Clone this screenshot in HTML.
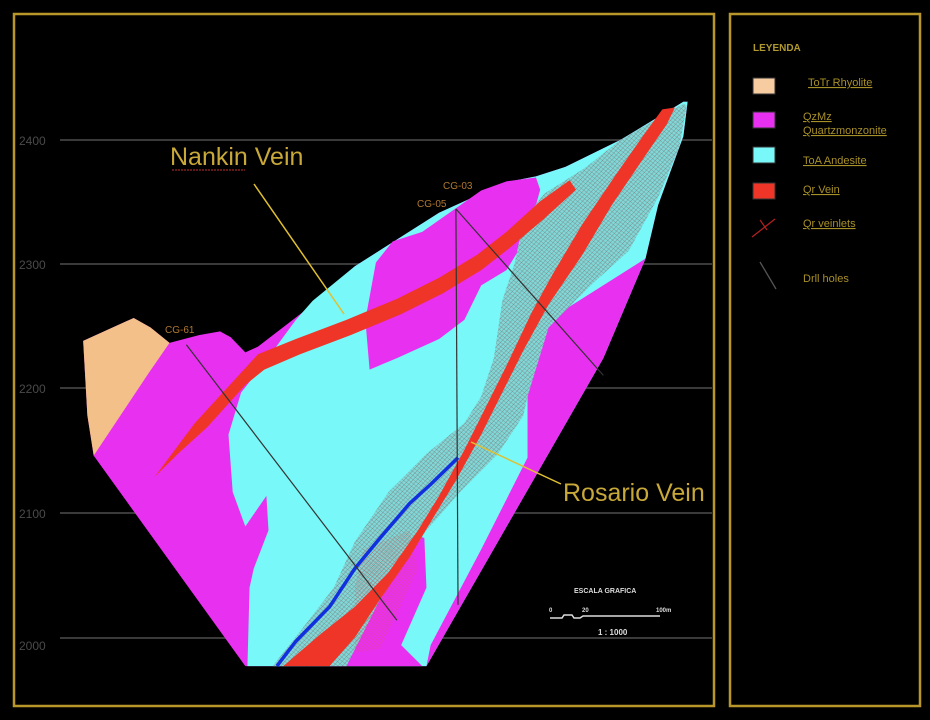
<!DOCTYPE html>
<html><head><meta charset="utf-8"><style>
html,body{margin:0;padding:0;background:#000;}
svg{display:block;}
.lg{font-family:"Liberation Sans Narrow","Liberation Sans",sans-serif;font-size:11px;fill:#a89028;text-decoration:underline;text-decoration-color:#c02020;}
</style></head><body>
<svg width="930" height="720" viewBox="0 0 930 720" xmlns="http://www.w3.org/2000/svg">
<defs>
<pattern id="hx" width="8" height="8" patternUnits="userSpaceOnUse" patternTransform="rotate(40)">
<rect width="8" height="8" fill="#80d8d8"/>
<path d="M0 0H8M0 0V8" stroke="#7a5a5a" stroke-width="1.3"/>
</pattern>
<pattern id="vl" width="7" height="7" patternUnits="userSpaceOnUse" patternTransform="rotate(40)">
<path d="M0 0H7M0 0V7" stroke="#e05050" stroke-width="0.9"/>
</pattern>
</defs>
<rect width="930" height="720" fill="#000"/>
<rect x="14" y="14" width="700" height="692" fill="none" stroke="#b8962a" stroke-width="2.5"/>
<rect x="730" y="14" width="190" height="692" fill="none" stroke="#b8962a" stroke-width="2.5"/>
<g stroke="#3a3a3a" stroke-width="2">
<line x1="60" y1="140" x2="712" y2="140"/><line x1="60" y1="264" x2="712" y2="264"/>
<line x1="60" y1="388" x2="712" y2="388"/><line x1="60" y1="513" x2="712" y2="513"/>
<line x1="60" y1="638" x2="712" y2="638"/>
</g>
<g font-family="Liberation Sans,sans-serif" font-size="12" fill="#4a4a4a">
<text x="19" y="145">2400</text><text x="19" y="269">2300</text><text x="19" y="393">2200</text><text x="19" y="518">2100</text><text x="19" y="650">2000</text>
</g>
<g transform="translate(60,90.3) scale(0.4212,0.3826)">
<polygon fill="#e830f0" points="80,955 65,850 55,655 175,595 215,620 260,660 330,640 380,630 405,645 440,685 470,670 600,560 700,460 900,320 1000,270 1060,240 1130,225 1200,200 1330,130 1480,30 1490,30 1480,120 1420,300 1390,440 1290,700 870,1505 440,1505"/>
<polygon fill="#f3c08a" points="55,655 175,595 215,620 260,660 210,740 80,955 65,850"/>
<polygon fill="#78f8f8" points="600,550 700,460 900,320 1000,270 1060,240 1130,225 1200,200 1330,130 1480,30 1490,30 1480,120 1420,300 1390,440 1290,700 870,1505 445,1505 450,1300 460,1250 495,1150 490,1060 440,1140 410,1050 400,900 430,790 480,720 560,600"/>
<polygon fill="#e830f0" points="790,395 860,370 1000,262 1060,238 1130,228 1140,260 1110,380 1060,470 1000,510 960,600 900,650 800,700 735,730 725,600 750,450"/>
<polygon fill="#e830f0" points="1390,440 1290,700 870,1505 880,1450 1000,1200 1110,960 1110,800 1160,600"/>
<polygon fill="#e830f0" points="640,1505 700,1380 780,1250 840,1160 865,1170 870,1300 810,1450 860,1505"/>
<polygon fill="url(#hx)" points="1330,130 1480,35 1488,40 1470,150 1420,280 1350,420 1260,510 1160,620 1110,800 1100,850 1040,950 950,1050 870,1150 760,1330 680,1505 505,1505 580,1400 650,1300 700,1180 780,1050 870,950 960,870 1000,800 1030,700 1050,550 1080,450 1100,340 1150,270 1250,200"/>
<polygon fill="url(#vl)" points="720,1200 830,1150 850,1250 760,1460 700,1470 700,1300"/>
<polygon fill="#ee3528" points="225,1010 320,870 420,750 470,690 560,650 680,600 800,545 900,490 990,430 1060,370 1140,290 1210,235 1225,260 1150,335 1070,410 1000,470 910,530 810,585 690,640 570,690 485,730 440,770 350,880 280,950"/>
<polygon fill="#ee3528" points="1430,50 1390,110 1320,220 1240,350 1170,480 1120,580 1060,720 1010,830 960,940 900,1060 850,1150 780,1260 700,1350 620,1420 530,1505 640,1505 700,1430 760,1330 830,1220 890,1110 940,1020 1000,900 1050,790 1100,680 1160,560 1240,430 1310,300 1390,170 1440,90 1460,45"/>
<polyline fill="none" stroke="#1030e0" stroke-width="3.5" vector-effect="non-scaling-stroke" points="945,960 880,1030 830,1080 760,1170 700,1250 640,1350 560,1440 515,1505"/>
<g stroke="#333" stroke-width="1.2" fill="none">
<line x1="300" y1="665" x2="800" y2="1385" vector-effect="non-scaling-stroke"/>
<line x1="940" y1="310" x2="945" y2="1345" vector-effect="non-scaling-stroke"/>
<line x1="940" y1="310" x2="1290" y2="745" vector-effect="non-scaling-stroke"/>
</g>
</g>
<g font-family="Liberation Sans Narrow,Liberation Sans,sans-serif" font-size="10" fill="#b07830">
<text x="443" y="189">CG-03</text><text x="417" y="207">CG-05</text><text x="165" y="333">CG-61</text>
</g>
<g stroke="#e0c030" stroke-width="1.5">
<line x1="254" y1="184" x2="344" y2="314"/>
<line x1="561" y1="484" x2="471" y2="442"/>
</g>
<g font-family="Liberation Sans Narrow,Liberation Sans,sans-serif" font-size="25" fill="#c8a838">
<text x="170" y="165">Nankin Vein</text>
<text x="563" y="501">Rosario Vein</text>
</g>
<line x1="172" y1="170" x2="245" y2="170" stroke="#c03030" stroke-width="1" stroke-dasharray="2,1"/>
<g fill="#ddd" font-family="Liberation Sans,sans-serif" font-weight="bold" font-size="7">
<text x="574" y="593">ESCALA GRAFICA</text>
<text x="549" y="612" font-size="6">0</text><text x="582" y="612" font-size="6">20</text><text x="656" y="612" font-size="6">100m</text>
<text x="598" y="635" font-size="8">1 : 1000</text>
</g>
<polyline fill="none" stroke="#ddd" stroke-width="1.5" points="550,618 562,618 564,615 572,615 574,618 580,618 583,616 660,616"/>
<text x="753" y="51" font-family="Liberation Sans,sans-serif" font-weight="bold" font-size="10" fill="#b09a30">LEYENDA</text>
<rect x="753" y="78" width="22" height="16" fill="#f6cca0" stroke="#333"/>
<rect x="753" y="112" width="22" height="16" fill="#e830f0" stroke="#333"/>
<rect x="753" y="147" width="22" height="16" fill="#78f8f8" stroke="#333"/>
<rect x="753" y="183" width="22" height="16" fill="#ee3528" stroke="#333"/>
<line x1="752" y1="237" x2="775" y2="219" stroke="#b02020" stroke-width="1.3"/>
<line x1="760" y1="220" x2="767" y2="230" stroke="#b02020" stroke-width="1.2"/>
<line x1="760" y1="262" x2="776" y2="289" stroke="#555" stroke-width="1.3"/>
<text class="lg" x="808" y="86">ToTr Rhyolite</text>
<text class="lg" x="803" y="120">QzMz</text>
<text class="lg" x="803" y="134">Quartzmonzonite</text>
<text class="lg" x="803" y="164">ToA Andesite</text>
<text class="lg" x="803" y="193">Qr Vein</text>
<text class="lg" x="803" y="227">Qr veinlets</text>
<text x="803" y="282" font-family="Liberation Sans Narrow,Liberation Sans,sans-serif" font-size="11" fill="#a89028">Drll holes</text>
</svg>
</body></html>
